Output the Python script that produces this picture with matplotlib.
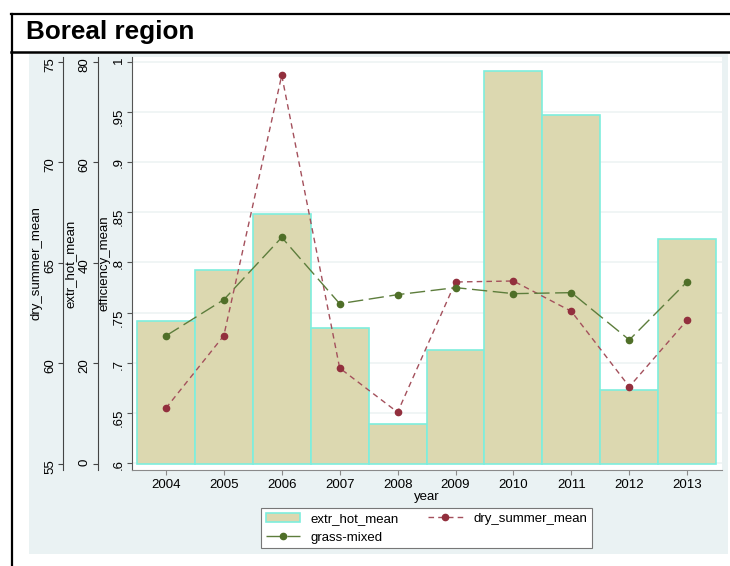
import matplotlib
matplotlib.use("Agg")
import matplotlib.pyplot as plt
from matplotlib.patches import Rectangle
from matplotlib.lines import Line2D

plt.rcParams["font.family"] = ["Liberation Sans", "DejaVu Sans"]
plt.rcParams["font.size"] = 9.5

# data
years = [2004, 2005, 2006, 2007, 2008, 2009, 2010, 2011, 2012, 2013]
year_labels = [str(y) for y in years]
extr_hot_mean = [28.4, 38.6, 49.6, 26.9, 7.8, 22.5, 78.2, 69.3, 14.6, 44.6]
dry_summer_mean = [57.75, 61.36, 74.31, 59.75, 57.55, 64.03, 64.08, 62.57, 58.82, 62.14]
grass_mixed = [0.727, 0.763, 0.825, 0.759, 0.768, 0.775, 0.769, 0.770, 0.723, 0.781]

eff_ticks = [0.6, 0.65, 0.7, 0.75, 0.8, 0.85, 0.9, 0.95, 1.0]
eff_labels = [".6", ".65", ".7", ".75", ".8", ".85", ".9", ".95", "1"]
hot_ticks = [0, 20, 40, 60, 80]
hot_labels = ["0", "20", "40", "60", "80"]
dry_ticks = [55, 60, 65, 70, 75]
dry_labels = ["55", "60", "65", "70", "75"]

W, H = 730, 566
BG = "#eaf2f3"
BAR_FILL = "#dcd8b0"
BAR_EDGE = "#7eeedd"
RED = "#922f3d"
GREEN = "#4f6f28"


def fx(x):
    return x / W


def fy(y):
    return 1 - y / H


def lims(lo, hi):
    # axes spans px 57..470, ticks lo/hi sit at px 463.5 / 61.5
    s = (hi - lo) / (463.5 - 61.5)
    return lo - (470 - 463.5) * s, hi + (61.5 - 57) * s


fig = plt.figure(figsize=(7.3, 5.66), dpi=100, facecolor="white")

# outer frame + title band
fig.add_artist(Rectangle((fx(29), fy(554)), fx(728) - fx(29), fy(54) - fy(554),
                         transform=fig.transFigure, facecolor=BG, edgecolor="none", zorder=-5))
fig.add_artist(Line2D([fx(11), 1], [fy(14), fy(14)], color="black", lw=1.6))
fig.add_artist(Line2D([fx(11), 1], [fy(52), fy(52)], color="black", lw=1.8))
fig.add_artist(Line2D([fx(12), fx(12)], [fy(14), 0], color="black", lw=1.6))
fig.text(fx(26), fy(32), "Boreal region", fontsize=18.8, fontweight="bold", ha="left", va="center")

rect = [fx(131.7), fy(470), (722 - 131.7) / W, (470 - 57) / H]

# efficiency axis (base, white plot region + grid)
ax = fig.add_axes(rect)
ax.set_zorder(0)
ax.set_facecolor("white")
ax.set_xlim(2003.41, 2013.6)
ax.set_ylim(lims(0.6, 1.0))
ax.set_yticks(eff_ticks, eff_labels)
ax.set_xticks(years, year_labels)
ax.set_axisbelow(True)
ax.yaxis.grid(True, color="#eef3f4", lw=1.2)
for s in ["top", "right"]:
    ax.spines[s].set_visible(False)
ax.spines["left"].set_color("#555555")
ax.spines["bottom"].set_color("#8a8a8a")
ax.tick_params(axis="y", labelrotation=90, length=3.6, pad=1.5, color="#555555")
ax.tick_params(axis="x", length=3.6, pad=3, color="#8a8a8a")
ax.set_ylabel("efficiency_mean", labelpad=1.5)
ax.set_xlabel("year", labelpad=0)

# extr_hot_mean axis (bars)
ax_hot = fig.add_axes(rect, sharex=ax)
ax_hot.set_zorder(1)
ax_hot.patch.set_visible(False)
bars = ax_hot.bar(years, extr_hot_mean, width=1, color=BAR_FILL, edgecolor=BAR_EDGE, linewidth=1.2)
ax_hot.set_ylim(lims(0, 80))
ax_hot.set_yticks(hot_ticks, hot_labels)
for s in ["top", "right", "bottom"]:
    ax_hot.spines[s].set_visible(False)
ax_hot.spines["left"].set_position(("axes", (97.7 - 131.7) / (722 - 131.7)))
ax_hot.spines["left"].set_color("#444444")
ax_hot.xaxis.set_visible(False)
ax_hot.tick_params(axis="y", labelrotation=90, length=3.6, pad=1.5, color="#444444")
ax_hot.set_ylabel("extr_hot_mean", labelpad=1.5)

# dry_summer_mean axis (red dashed line)
ax_dry = fig.add_axes(rect, sharex=ax)
ax_dry.set_zorder(2)
ax_dry.patch.set_visible(False)
dry_line, = ax_dry.plot(years, dry_summer_mean, color="#a4505c", lw=1.0, dashes=(4, 3),
                        marker="o", markersize=4.5, markerfacecolor=RED, markeredgecolor=RED)
ax_dry.set_ylim(lims(55, 75))
ax_dry.set_yticks(dry_ticks, dry_labels)
for s in ["top", "right", "bottom"]:
    ax_dry.spines[s].set_visible(False)
ax_dry.spines["left"].set_position(("axes", (63.3 - 131.7) / (722 - 131.7)))
ax_dry.spines["left"].set_color("#444444")
ax_dry.xaxis.set_visible(False)
ax_dry.tick_params(axis="y", labelrotation=90, length=3.6, pad=1.5, color="#444444")
ax_dry.set_ylabel("dry_summer_mean", labelpad=1.5)

# grass-mixed on the efficiency scale, drawn on top
ax_top = fig.add_axes(rect, sharex=ax, sharey=ax)
ax_top.set_zorder(3)
ax_top.axis("off")
grass_line, = ax_top.plot(years, grass_mixed, color="#5d7d3c", lw=1.0, dashes=(11, 4),
                          marker="o", markersize=4.5, markerfacecolor=GREEN, markeredgecolor=GREEN)

leg = fig.legend([bars, grass_line, dry_line], ["extr_hot_mean", "grass-mixed", "dry_summer_mean"],
                 ncol=2, loc="upper center", bbox_to_anchor=(fx(426.5), fy(508)),
                 frameon=True, fancybox=False, edgecolor="#777777", framealpha=1,
                 borderpad=0.35, labelspacing=0.5, handlelength=2.6, handletextpad=0.8,
                 columnspacing=2.2, borderaxespad=0)
leg.get_frame().set_linewidth(0.8)

fig.savefig("out.png", dpi=100)
